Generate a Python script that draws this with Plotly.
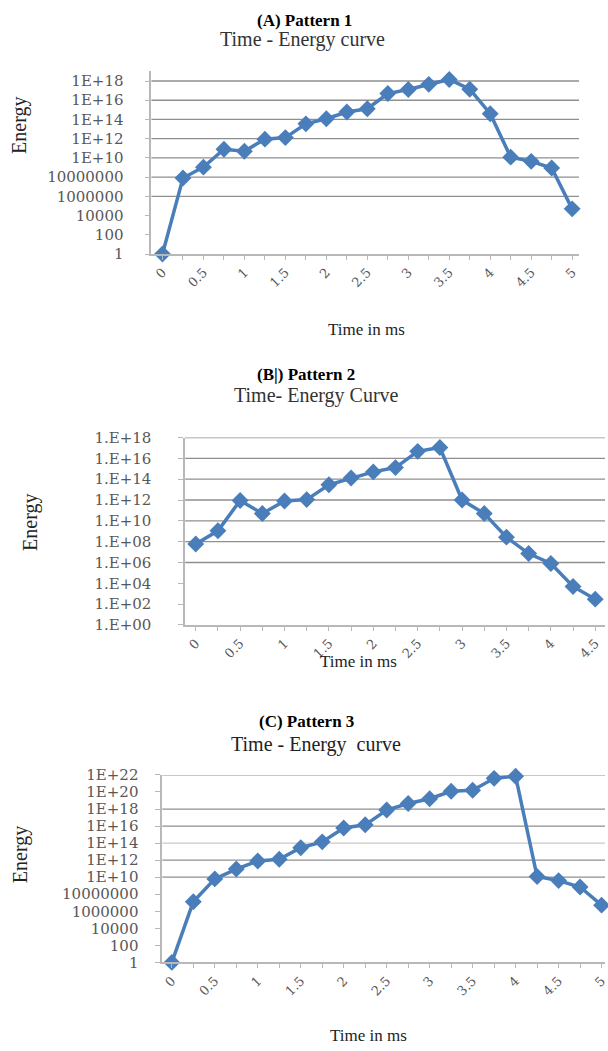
import plotly.graph_objects as go

W, H = 608, 1051

# ---- data -------------------------------------------------------------
time_ms = [0, 0.25, 0.5, 0.75, 1, 1.25, 1.5, 1.75, 2, 2.25, 2.5,
           2.75, 3, 3.25, 3.5, 3.75, 4, 4.25, 4.5, 4.75, 5]
time_labels = ["0", "0.5", "1", "1.5", "2", "2.5", "3", "3.5", "4", "4.5", "5"]

energy_p1 = [1, 8e7, 1.1e9, 8e10, 5e10, 9e11, 1.3e12, 3.5e13, 1.2e14, 6e14,
             1.3e15, 5e16, 1.3e17, 4.5e17, 1.45e18, 1.4e17, 4e14, 1.2e10,
             4.4e9, 9e8, 5e4]
energy_p2 = [6e7, 1.1e9, 9e11, 5e10, 8e11, 1.1e12, 2.9e13, 1.3e14, 5e14,
             1.3e15, 4.7e16, 1.1e17, 1e12, 5e10, 2.7e8, 7.2e6, 8e5, 5e3, 3e2]
energy_p3 = [1, 1.3e7, 6.3e9, 9e10, 8e11, 1.3e12, 2.9e13, 1.4e14, 5.9e15,
             1.4e16, 7.6e17, 4.5e18, 1.6e19, 1.2e20, 1.6e20, 4e21, 6.9e21,
             1.2e10, 4e9, 7e8, 5.2e6]

ytick_p1 = ["1", "100", "10000", "1000000", "10000000", "1E+10", "1E+12",
            "1E+14", "1E+16", "1E+18"]
ytick_p2 = ["1.E+00", "1.E+02", "1.E+04", "1.E+06", "1.E+08", "1.E+10",
            "1.E+12", "1.E+14", "1.E+16", "1.E+18"]
ytick_p3 = ["1", "100", "10000", "1000000", "10000000", "1E+10", "1E+12",
            "1E+14", "1E+16", "1E+18", "1E+20", "1E+22"]

# ---- style ------------------------------------------------------------
BLUE = "#4a7ebb"
GRID = "#8f8f8f"
GRID_LIGHT = "#c9c9c9"
AXIS = "#b8b8b8"
TICKTXT = "#585858"
SERIF = "Liberation Serif, Times New Roman, serif"
WIDE = "DejaVu Serif, serif"


def px_x(x):
    return x / W


def px_y(y):
    return 1 - y / H


panels = [
    dict(name="A", energy=energy_p1, n=21, yticks=ytick_p1,
         xdom=(152, 582), ybot=249.3, ytop=63.5, yrange=(0, 19),
         xrange=(-0.137, 5.085),
         grid=[(1e6, GRID), (1e8, GRID), (1e10, GRID), (1e12, GRID),
               (1e14, GRID), (1e16, GRID), (1e18, GRID)],
         standoff=18, tickfont=15),
    dict(name="B", energy=energy_p2, n=19, yticks=ytick_p2,
         xdom=(186, 608), ybot=626.7, ytop=436, yrange=(0, 18),
         xrange=(-0.12, 4.61),
         grid=[(1e6, GRID), (1e8, GRID), (1e10, GRID), (1e12, GRID),
               (1e14, GRID), (1e16, GRID), (1e18, GRID)],
         standoff=24, tickfont=15),
    dict(name="C", energy=energy_p3, n=21, yticks=ytick_p3,
         xdom=(163, 608), ybot=970, ytop=779.3, yrange=(0, 22),
         xrange=(-0.112, 5.04),
         grid=[(1e10, GRID), (1e12, GRID), (1e14, GRID_LIGHT),
               (1e16, GRID), (1e18, GRID), (1e22, GRID)],
         standoff=14, tickfont=15),
]

fig = go.Figure()
layout = dict(width=W, height=H, margin=dict(l=0, r=0, t=0, b=0),
              paper_bgcolor="white", plot_bgcolor="white",
              showlegend=False)

for i, p in enumerate(panels):
    ax = "" if i == 0 else str(i + 1)
    xr, yr = "x" + ax, "y" + ax
    t = time_ms[:p["n"]]

    # horizontal gridlines
    for val, col in p["grid"]:
        fig.add_trace(go.Scatter(
            x=[p["xrange"][0], p["xrange"][1]], y=[val, val], mode="lines",
            line=dict(color=col, width=1.3), hoverinfo="skip",
            xaxis=xr, yaxis=yr))

    # energy curve
    fig.add_trace(go.Scatter(
        x=t, y=p["energy"], mode="lines+markers",
        line=dict(color=BLUE, width=3.5),
        marker=dict(symbol="diamond", size=13, color=BLUE),
        cliponaxis=False, xaxis=xr, yaxis=yr))

    ticktext = [f"{v:g}" if f"{v:g}" in time_labels else "" for v in t]
    tickvals_y = [10.0 ** (2 * k) for k in range(len(p["yticks"]))]

    layout["xaxis" + ax] = dict(
        domain=[px_x(p["xdom"][0]), px_x(p["xdom"][1])],
        anchor=yr, range=list(p["xrange"]), showgrid=False, zeroline=False,
        showline=True, linecolor=AXIS, linewidth=1.5,
        ticks="outside", ticklen=4, tickcolor=AXIS,
        tickvals=t, ticktext=ticktext, tickangle=-45,
        ticklabeloverflow="allow",
        tickfont=dict(family=WIDE, size=13, color=TICKTXT))
    layout["yaxis" + ax] = dict(
        domain=[px_y(p["ybot"]), px_y(p["ytop"])],
        anchor=xr, type="log", range=list(p["yrange"]),
        showgrid=False, zeroline=False,
        showline=True, linecolor=AXIS, linewidth=1.5,
        ticks="outside", ticklen=5, tickcolor=AXIS,
        tickvals=tickvals_y, ticktext=p["yticks"],
        ticklabelstandoff=p["standoff"],
        tickfont=dict(family=WIDE, size=p["tickfont"], color=TICKTXT))

ann = []


def text(s, x, y, size, bold=False, color="#111", angle=0):
    ann.append(dict(text=f"<b>{s}</b>" if bold else s,
                    x=px_x(x), y=px_y(y), xref="paper", yref="paper",
                    xanchor="center", yanchor="middle", showarrow=False,
                    textangle=angle,
                    font=dict(family=SERIF, size=size, color=color)))


# panel A
text("Time - Energy curve", 304, 31, 20, color="#333")
text("(A) Pattern 1", 306, 12, 17, bold=True, color="#000")
text("Energy", 20, 118, 20, color="#222", angle=-90)
text("Time in ms", 368, 326, 17, color="#222")

# panel B
text("Time- Energy Curve", 318, 393, 20, color="#333")
text("(B|) Pattern 2", 308, 372, 17, bold=True, color="#000")
text("Energy", 30, 522, 20, color="#222", angle=-90)
text("Time in ms", 360, 664, 17, color="#222")

# panel C
text("Time - Energy  curve", 318, 748, 20, color="#222")
text("(C) Pattern 3", 308, 725, 17, bold=True, color="#000")
text("Energy", 20, 860, 20, color="#222", angle=-90)
text("Time in ms", 370, 1044, 17, color="#222")

layout["annotations"] = ann
fig.update_layout(**layout)
fig.write_html("out.html")
